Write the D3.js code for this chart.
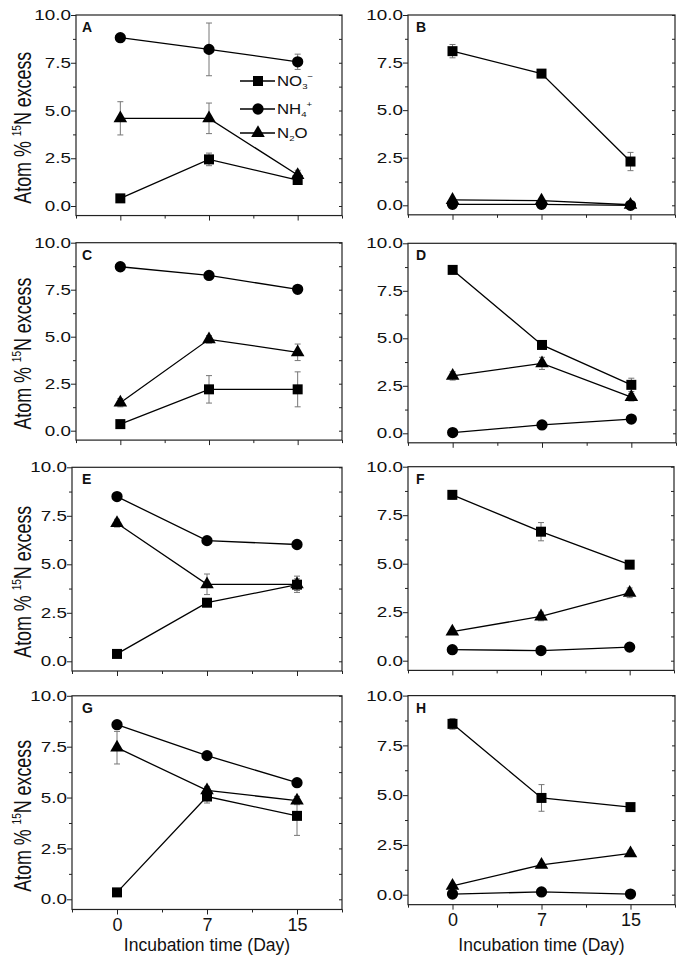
<!DOCTYPE html>
<html>
<head>
<meta charset="utf-8">
<script src="https://cdn.jsdelivr.net/npm/d3@7"></script>
<style>
  body { margin: 0; background: #fff; }
  svg { display: block; font-family: Arial, "Liberation Sans", sans-serif; }
</style>
</head>
<body>
<div id="chart"></div>
<script>
// ---- data ----
const days = ['0', '7', '15'];
const panelNames = ['A', 'B', 'C', 'D', 'E', 'F', 'G', 'H'];
const yTicks = [0, 2.5, 5, 7.5, 10];
const yMinor = [1.25, 3.75, 6.25, 8.75];

// atom % 15N excess, one row per panel A..H, values at day 0, 7, 15
const no3Mean = [
  [0.40, 2.44, 1.36], [8.10, 6.92, 2.30], [0.35, 2.20, 2.20], [8.60, 4.65, 2.55],
  [0.38, 3.02, 3.95], [8.55, 6.65, 4.95], [0.34, 5.05, 4.10], [8.58, 4.86, 4.40]
];
const no3Err = [
  [0, 0.33, 0.12], [0.35, 0.10, 0.48], [0, 0.73, 0.93], [0.18, 0.10, 0.35],
  [0, 0.10, 0.30], [0.22, 0.47, 0.08], [0, 0.32, 0.96], [0.27, 0.67, 0.08]
];
const nh4Mean = [
  [8.81, 8.20, 7.55], [0.05, 0.05, 0.00], [8.72, 8.26, 7.52], [0.04, 0.44, 0.75],
  [8.49, 6.22, 6.02], [0.57, 0.52, 0.70], [8.58, 7.06, 5.73], [0.03, 0.14, 0.03]
];
const nh4Err = [
  [0.05, 1.38, 0.40], [0, 0, 0], [0.08, 0.08, 0.08], [0, 0, 0.05],
  [0.08, 0.08, 0.08], [0, 0, 0], [0.08, 0.08, 0.08], [0, 0, 0]
];
const n2oMean = [
  [4.59, 4.59, 1.62], [0.28, 0.25, 0.03], [1.49, 4.86, 4.17], [3.02, 3.68, 1.90],
  [7.12, 3.97, 3.97], [1.50, 2.28, 3.50], [7.45, 5.35, 4.85], [0.44, 1.50, 2.08]
];
const n2oErr = [
  [0.87, 0.80, 0.25], [0, 0, 0], [0.22, 0.20, 0.44], [0.22, 0.32, 0.20],
  [0.20, 0.53, 0.42], [0.10, 0.22, 0.25], [0.80, 0.20, 0.20], [0.10, 0.10, 0.15]
];

const width = 680;
const height = 956;

// panel frames: [left, right, y of 10.0, y of 0.0]
const frames = [
  [76, 342, 15, 206],     [408, 675, 15, 205.3],
  [76, 342, 242.7, 430.7], [408, 676, 243.3, 433.3],
  [72, 342, 467.3, 661.3], [408, 674, 466.7, 660.7],
  [72, 342, 695.8, 899.3], [408, 675, 695.6, 894.7]
];

const series = [
  { name: 'NO3', mean: no3Mean, err: no3Err, symbol: d3.symbolSquare, size: 100 },
  { name: 'NH4', mean: nh4Mean, err: nh4Err, symbol: d3.symbolCircle, size: 100 },
  { name: 'N2O', mean: n2oMean, err: n2oErr, symbol: d3.symbolTriangle, size: 80 }
];

const svg = d3.select('#chart')
  .append('svg')
  .attr('width', width)
  .attr('height', height);

const frameColor = '#222';

panelNames.forEach((name, p) => {
  const [l, r, y10, y0] = frames[p];
  const y = d3.scaleLinear().domain([0, 10]).range([y0, y10]);
  const bottom = y(-0.5);
  const x = d3.scalePoint().domain(days).range([l, r]).padding(0.5);
  const xIdx = d3.scaleLinear().domain([-0.5, 2.5]).range([l, r]);
  const g = svg.append('g').attr('class', 'panel');

  // frame
  g.append('rect')
    .attr('x', l).attr('y', y10)
    .attr('width', r - l).attr('height', bottom - y10)
    .attr('fill', 'none').attr('stroke', frameColor).attr('stroke-width', 1.2);

  // left axis
  const yAxis = g.append('g')
    .attr('transform', `translate(${l},0)`)
    .call(d3.axisLeft(y).tickValues(yTicks).tickSize(5).tickFormat(d3.format('.1f')));
  yAxis.select('.domain').remove();
  yAxis.selectAll('line').attr('stroke', frameColor);
  yAxis.selectAll('text')
    .attr('x', -5 / 1.3)
    .attr('transform', 'scale(1.3,1)')
    .attr('fill', '#111')
    .style('font-size', '14.5px')
    .style('font-family', 'Arial, "Liberation Sans", sans-serif');

  const yMin = g.append('g')
    .attr('transform', `translate(${l},0)`)
    .call(d3.axisLeft(y).tickValues(yMinor).tickSize(3).tickFormat(''));
  yMin.select('.domain').remove();
  yMin.selectAll('line').attr('stroke', frameColor);

  // right mirror ticks (inward)
  const yRight = g.append('g')
    .attr('transform', `translate(${r},0)`)
    .call(d3.axisRight(y).tickValues(yTicks.concat(yMinor)).tickSize(-3).tickFormat(''));
  yRight.select('.domain').remove();
  yRight.selectAll('line').attr('stroke', frameColor);

  // bottom axis
  const showX = p >= 6;
  const xAxis = g.append('g')
    .attr('transform', `translate(0,${bottom})`)
    .call(d3.axisBottom(xIdx).tickValues([0, 1, 2]).tickSize(5).tickPadding(4)
      .tickFormat(i => showX ? days[i] : ''));
  xAxis.select('.domain').remove();
  xAxis.selectAll('line').attr('stroke', frameColor);
  xAxis.selectAll('text')
    .attr('fill', '#111')
    .style('font-size', '18px')
    .style('font-family', 'Arial, "Liberation Sans", sans-serif');

  const xMin = g.append('g')
    .attr('transform', `translate(0,${bottom})`)
    .call(d3.axisBottom(xIdx).tickValues([-0.5, 0.5, 1.5, 2.5]).tickSize(3).tickFormat(''));
  xMin.select('.domain').remove();
  xMin.selectAll('line').attr('stroke', frameColor);

  // panel letter
  g.append('text')
    .attr('x', p % 2 === 0 ? 82 : 416)
    .attr('y', y10 + 17)
    .attr('font-size', 14)
    .attr('font-weight', 'bold')
    .attr('fill', '#111')
    .text(name);

  // error bars
  series.forEach(s => {
    const eb = g.append('g').attr('class', 'errbars')
      .attr('stroke', '#777').attr('stroke-width', 1).attr('fill', 'none');
    s.mean[p].forEach((m, i) => {
      const e = s.err[p][i];
      if (!e) return;
      const cx = x(days[i]);
      eb.append('line').attr('x1', cx).attr('x2', cx)
        .attr('y1', y(m - e)).attr('y2', y(m + e));
      [m - e, m + e].forEach(v => {
        eb.append('line').attr('x1', cx - 3).attr('x2', cx + 3)
          .attr('y1', y(v)).attr('y2', y(v));
      });
    });
  });

  // lines
  const line = d3.line().x((d, i) => x(days[i])).y(d => y(d));
  series.forEach(s => {
    g.append('path')
      .attr('d', line(s.mean[p]))
      .attr('fill', 'none')
      .attr('stroke', '#000')
      .attr('stroke-width', 1.3);
  });

  // markers
  series.forEach(s => {
    g.append('g').selectAll('path')
      .data(s.mean[p])
      .join('path')
      .attr('transform', (d, i) => `translate(${x(days[i])},${y(d)})`)
      .attr('d', d3.symbol().type(s.symbol).size(s.size))
      .attr('fill', '#000');
  });

  // y label for left column
  if (p % 2 === 0) {
    const lab = g.append('text')
      .attr('text-anchor', 'middle')
      .attr('font-size', 23)
      .attr('fill', '#111');
    lab.append('tspan').text('Atom % ');
    lab.append('tspan').attr('font-size', 13).attr('dy', -10).text('15');
    lab.append('tspan').attr('dy', 10).text('N excess');
    const len = lab.node().getComputedTextLength();
    lab.attr('transform', `translate(31,${y(4.1)}) rotate(-90) scale(${152 / len},1)`);
  }

  // x label for bottom row
  if (showX) {
    g.append('text')
      .attr('x', x('7'))
      .attr('y', 951)
      .attr('text-anchor', 'middle')
      .attr('font-size', 17.5)
      .attr('fill', '#111')
      .text('Incubation time (Day)');
  }

  // legend in panel A
  if (p === 0) {
    const legendRows = [
      { s: series[0], y: 81 },
      { s: series[1], y: 109 },
      { s: series[2], y: 133 }
    ];
    const lg = g.append('g').attr('class', 'legend');
    legendRows.forEach(row => {
      lg.append('line').attr('x1', 240).attr('x2', 275)
        .attr('y1', row.y).attr('y2', row.y)
        .attr('stroke', '#000').attr('stroke-width', 1.3);
      lg.append('path')
        .attr('transform', `translate(258,${row.y})`)
        .attr('d', d3.symbol().type(row.s.symbol).size(row.s.size))
        .attr('fill', '#000');
    });
    const tx = (yy) => lg.append('text')
      .attr('transform', `translate(277,${yy + 5}) scale(1.2,1)`)
      .attr('font-size', 14).attr('fill', '#111');
    const t1 = tx(81);
    t1.append('tspan').text('NO');
    t1.append('tspan').attr('font-size', 8).attr('dy', 3).text('3');
    t1.append('tspan').attr('font-size', 8).attr('dy', -10).text('−');
    const t2 = tx(109);
    t2.append('tspan').text('NH');
    t2.append('tspan').attr('font-size', 8).attr('dy', 3).text('4');
    t2.append('tspan').attr('font-size', 8).attr('dy', -10).text('+');
    const t3 = tx(133);
    t3.append('tspan').text('N');
    t3.append('tspan').attr('font-size', 8).attr('dy', 3).text('2');
    t3.append('tspan').attr('dy', -3).text('O');
  }
});
</script>
</body>
</html>
